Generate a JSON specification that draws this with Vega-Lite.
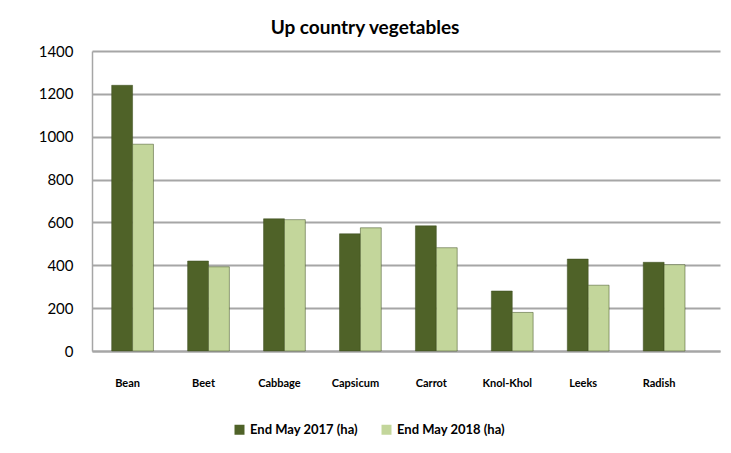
{
  "$schema": "https://vega.github.io/schema/vega-lite/v6.json",
  "width": 628,
  "height": 300,
  "autosize": {"type": "none"},
  "padding": {"left": 92, "top": 51, "right": 11, "bottom": 102},
  "background": "white",
  "title": {
    "text": "Up country vegetables",
    "font": "Lato",
    "fontSize": 19,
    "fontWeight": "bold",
    "color": "#000000",
    "anchor": "middle",
    "offset": 6,
    "dx": -41
  },
  "data": {
    "values": [
      {"veg": "Bean", "series": "End May 2017 (ha)", "ha": 1240},
      {"veg": "Bean", "series": "End May 2018 (ha)", "ha": 965},
      {"veg": "Beet", "series": "End May 2017 (ha)", "ha": 420},
      {"veg": "Beet", "series": "End May 2018 (ha)", "ha": 393},
      {"veg": "Cabbage", "series": "End May 2017 (ha)", "ha": 617},
      {"veg": "Cabbage", "series": "End May 2018 (ha)", "ha": 613},
      {"veg": "Capsicum", "series": "End May 2017 (ha)", "ha": 547},
      {"veg": "Capsicum", "series": "End May 2018 (ha)", "ha": 575},
      {"veg": "Carrot", "series": "End May 2017 (ha)", "ha": 584},
      {"veg": "Carrot", "series": "End May 2018 (ha)", "ha": 482},
      {"veg": "Knol-Khol", "series": "End May 2017 (ha)", "ha": 280},
      {"veg": "Knol-Khol", "series": "End May 2018 (ha)", "ha": 180},
      {"veg": "Leeks", "series": "End May 2017 (ha)", "ha": 429},
      {"veg": "Leeks", "series": "End May 2018 (ha)", "ha": 307},
      {"veg": "Radish", "series": "End May 2017 (ha)", "ha": 414},
      {"veg": "Radish", "series": "End May 2018 (ha)", "ha": 403}
    ]
  },
  "mark": {"type": "bar", "stroke": "#3a4a1c", "strokeWidth": 0.5},
  "encoding": {
    "x": {
      "field": "veg",
      "type": "nominal",
      "sort": null,
      "scale": {"paddingInner": 0.45, "paddingOuter": 0.36, "align": 0.36},
      "axis": {
        "title": null,
        "labelAngle": 0,
        "labelFont": "Lato",
        "labelFontSize": 11,
        "labelFontWeight": "bold",
        "labelColor": "#000000",
        "labelPadding": 26,
        "ticks": false,
        "domain": true,
        "domainColor": "#a6a6a6",
        "domainWidth": 2,
        "labelOffset": -5
      }
    },
    "xOffset": {"field": "series", "type": "nominal"},
    "y": {
      "field": "ha",
      "type": "quantitative",
      "scale": {"domain": [0, 1400]},
      "axis": {
        "title": null,
        "values": [0, 200, 400, 600, 800, 1000, 1200, 1400],
        "format": "d",
        "labelFont": "Lato",
        "labelFontSize": 15,
        "labelColor": "#000000",
        "labelPadding": 19,
        "ticks": false,
        "domain": true,
        "domainColor": "#a6a6a6",
        "domainWidth": 1.5,
        "grid": true,
        "gridColor": "#a6a6a6",
        "gridWidth": 2
      }
    },
    "color": {
      "field": "series",
      "type": "nominal",
      "scale": {
        "domain": ["End May 2017 (ha)", "End May 2018 (ha)"],
        "range": ["#4f6228", "#c3d69b"]
      },
      "legend": {
        "title": null,
        "orient": "none",
        "legendX": 141,
        "legendY": 372,
        "direction": "horizontal",
        "symbolType": "square",
        "symbolSize": 100,
        "symbolStrokeWidth": 0,
        "labelFont": "Lato",
        "labelFontSize": 13,
        "labelFontWeight": "bold",
        "labelColor": "#000000",
        "columnPadding": 22,
        "labelLimit": 200
      }
    }
  },
  "config": {
    "view": {"stroke": null}
  }
}
